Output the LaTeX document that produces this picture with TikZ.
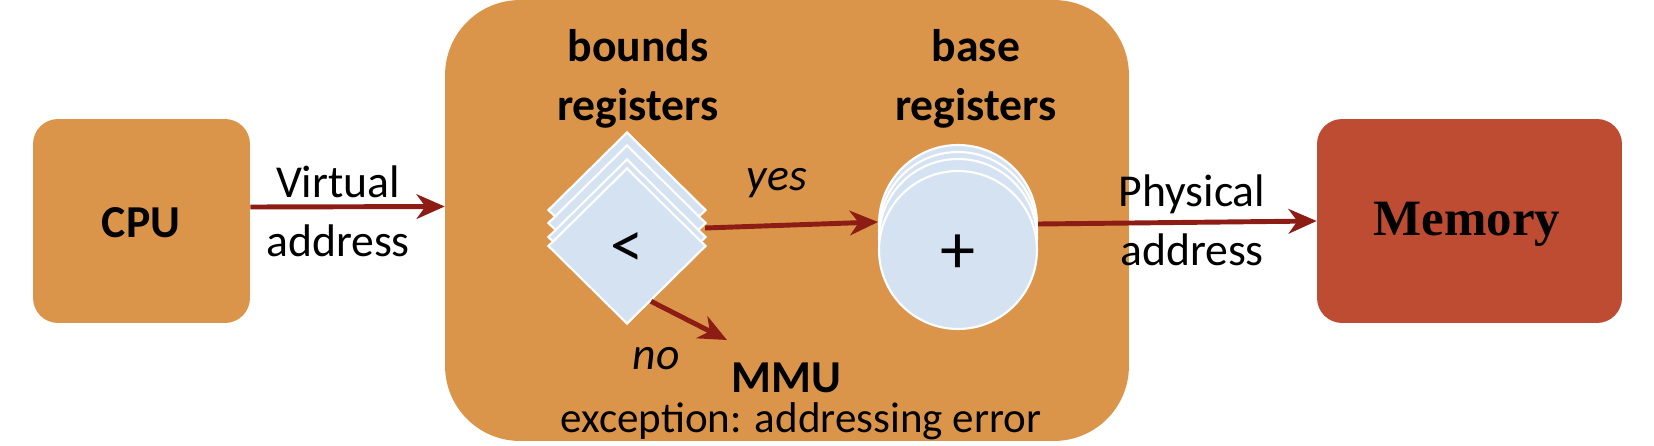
\documentclass[tikz,border=0pt]{standalone}
\usepackage{fontspec}
\setmainfont{Carlito}
\newfontfamily\memfont{Liberation Serif}
\usetikzlibrary{shapes.geometric,arrows.meta,calc}
\definecolor{orangebox}{HTML}{DB954B}
\definecolor{membox}{HTML}{BE4C33}
\definecolor{arrowred}{HTML}{8C1C14}
\definecolor{lightblue}{HTML}{D4E2F2}
\tikzset{
  bigtext/.style={font=\fontsize{26}{33.5}\selectfont, align=center, inner sep=0pt},
  boldtext/.style={bigtext, font=\fontsize{26}{33.5}\selectfont\bfseries},
  conn/.style={draw=arrowred, line width=2.8pt, -{Stealth[length=16pt,width=14pt,inset=5pt]}},
  regdiamond/.style={diamond, aspect=1, fill=lightblue, draw=white, line width=1.2pt, minimum width=3.16cm, minimum height=3.12cm, inner sep=0pt},
  regcircle/.style={circle, fill=lightblue, draw=white, line width=1.2pt, minimum size=3.16cm, inner sep=0pt},
}
\begin{document}
\begin{tikzpicture}[x=0.02cm,y=-0.02cm]
\useasboundingbox (0,0) rectangle (1654,446);
% boxes
\node[fill=orangebox, rounded corners=0.5cm, minimum width=4.34cm, minimum height=4.08cm, inner sep=0pt] (cpu) at (141.5,221) {};
\node[boldtext] at (141,223) {CPU};
\node[fill=orangebox, rounded corners=1.5cm, minimum width=13.68cm, minimum height=8.82cm, inner sep=0pt] (mmu) at (787,220.5) {};
\node[fill=membox, rounded corners=0.5cm, minimum width=6.1cm, minimum height=4.08cm, inner sep=0pt] (mem) at (1469.5,221) {};
\node[font=\memfont\fontsize{29}{34}\selectfont\bfseries, inner sep=0pt] at (1467,224) {Memory};
% bounds registers
\node[regdiamond] (b1) at (627,210) {};
\node[regdiamond] (b2) at (627,223) {};
\node[regdiamond] (b3) at (627,237) {};
\node[regdiamond] (b4) at (627,246) {};
\node[font=\fontsize{38}{40}\selectfont, inner sep=0pt] at (627,250) {<};
% base registers
\node[regcircle] (c1) at (958,224) {};
\node[regcircle] (c2) at (958,231) {};
\node[regcircle] (c3) at (958,238) {};
\node[regcircle] (c4) at (958,250) {};
\node[font=\fontsize{40}{40}\selectfont, inner sep=0pt] at (958,254) {+};
% labels
\node[boldtext] at (638,79) {bounds\\registers};
\node[boldtext] at (976,79) {base\\registers};
\node[bigtext] at (338,211) {Virtual\\address};
\node[bigtext] at (1192,220) {Physical\\address};
\node[bigtext, font=\fontsize{26}{33.5}\selectfont\itshape] at (777,183) {yes};
\node[bigtext, font=\fontsize{26}{33.5}\selectfont\itshape] at (656,359) {no};
\node[font=\fontsize{26}{30}\selectfont\bfseries, inner sep=0pt, anchor=base] (mmulabel) at (786,392) {MMU};
\node[font=\fontsize{24.5}{30}\selectfont, inner sep=0pt, anchor=base] (exc) at (801,432) {exception: addressing error};
% coordinates
\coordinate (noend) at (727,340);
% connectors
\draw[conn] ([yshift=0.28cm]cpu.east) -- ([yshift=0.28cm]mmu.west);
\draw[conn] ($(b2.east)+(-2,5)$) -- ([yshift=0.56cm]c4.west);
\draw[conn] ([yshift=0.52cm]c4.east) -- (mem.west);
\draw[conn] ($(b4.south)!0.3!(b4.east)$) -- (noend);
\end{tikzpicture}
\end{document}
